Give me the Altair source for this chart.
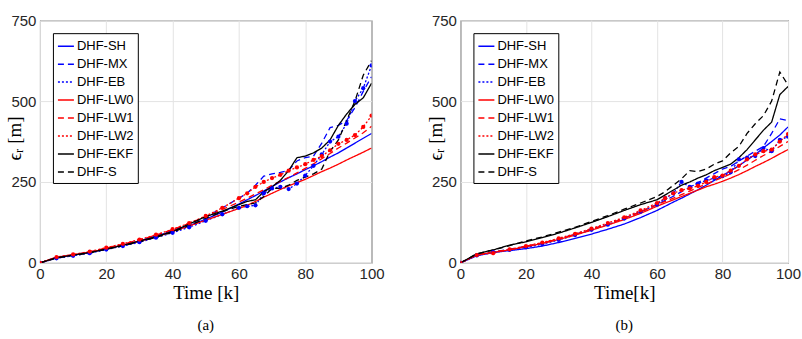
import altair as alt
import pandas as pd

NAMES = ["DHF-SH", "DHF-MX", "DHF-EB", "DHF-LW0", "DHF-LW1", "DHF-LW2", "DHF-EKF", "DHF-S"]
K = [0, 5, 10, 15, 20, 25, 30, 35, 40, 45, 50, 55, 60, 62.5, 65, 67.5, 70, 72.5, 75, 77.5,
     80, 82.5, 85, 87.5, 90, 92.5, 95, 97.5, 100]

# panel (a)
A_SH = [0, 16, 24, 32, 43, 55, 68, 83, 98, 115, 135, 157, 182, 195, 208, 222, 236, 250, 263, 275, 288, 300, 313, 327, 340, 355, 370, 385, 400]
A_MX = [0, 17, 25, 33, 44, 56, 69, 84, 100, 120, 142, 170, 200, 215, 240, 268, 275, 280, 286, 315, 325, 330, 370, 418, 425, 440, 480, 530, 575]
A_EB = [0, 14, 22, 30, 41, 52, 64, 78, 93, 110, 130, 150, 170, 175, 178, 215, 230, 235, 228, 245, 270, 300, 335, 375, 390, 430, 500, 540, 610]
A_LW0 = [0, 17, 25, 33, 44, 55, 67, 80, 97, 114, 132, 150, 168, 178, 190, 203, 215, 227, 238, 248, 258, 270, 282, 293, 305, 318, 330, 342, 355]
A_LW1 = [0, 17, 25, 34, 46, 58, 71, 86, 103, 122, 143, 165, 188, 200, 213, 226, 240, 252, 264, 278, 292, 306, 322, 338, 355, 370, 386, 402, 422]
A_LW2 = [0, 18, 26, 35, 47, 59, 72, 87, 104, 123, 145, 170, 200, 215, 235, 250, 262, 272, 285, 295, 305, 318, 330, 348, 368, 380, 395, 420, 455]
A_EKF = [0, 16, 24, 32, 43, 54, 67, 81, 97, 120, 143, 160, 180, 190, 195, 220, 235, 255, 285, 325, 330, 340, 355, 380, 425, 460, 490, 510, 555]
A_S = [0, 15, 23, 31, 42, 53, 65, 79, 95, 115, 138, 158, 175, 180, 185, 205, 230, 230, 240, 255, 265, 275, 290, 345, 380, 440, 500, 580, 625]

# panel (b)
B_SH = [0, 22, 32, 38, 44, 52, 63, 76, 89, 104, 120, 140, 162, 175, 188, 200, 213, 226, 240, 255, 270, 285, 300, 318, 335, 355, 375, 395, 420]
B_MX = [0, 24, 34, 42, 51, 61, 74, 88, 104, 120, 138, 158, 180, 193, 206, 220, 234, 248, 262, 276, 290, 298, 315, 330, 345, 360, 400, 445, 440]
B_EB = [0, 23, 33, 40, 48, 58, 71, 86, 102, 118, 137, 158, 180, 200, 215, 250, 235, 245, 255, 262, 268, 280, 320, 325, 330, 355, 345, 380, 390]
B_LW0 = [0, 25, 33, 40, 50, 60, 72, 86, 101, 117, 134, 153, 175, 185, 195, 205, 215, 225, 235, 243, 252, 262, 273, 285, 298, 310, 323, 337, 350]
B_LW1 = [0, 25, 34, 41, 51, 62, 74, 88, 104, 120, 138, 158, 180, 190, 200, 211, 222, 233, 244, 254, 264, 275, 288, 302, 317, 332, 345, 360, 375]
B_LW2 = [0, 24, 30, 42, 52, 63, 76, 90, 106, 123, 141, 162, 185, 200, 215, 225, 230, 238, 250, 265, 270, 285, 300, 320, 335, 345, 350, 375, 398]
B_EKF = [0, 28, 40, 55, 65, 78, 92, 108, 125, 143, 162, 180, 195, 210, 225, 240, 250, 262, 272, 285, 295, 305, 325, 350, 380, 410, 435, 520, 545]
B_S = [0, 28, 40, 53, 68, 80, 95, 110, 128, 146, 166, 185, 205, 220, 240, 260, 285, 282, 290, 305, 315, 340, 360, 400, 430, 455, 500, 590, 550]

COLORS = ["#0000ff", "#0000ff", "#0000ff", "#ff0000", "#ff0000", "#ff0000", "#000000", "#000000"]
DASHES = [[1, 0], [6, 4], [2, 2], [1, 0], [6, 4], [2, 2], [1, 0], [6, 4]]
MARKED = ["DHF-EB", "DHF-LW2"]

SERIF = "Liberation Serif"
SANS = "Liberation Sans"


def long_df(series_list):
    rows = []
    for name, vals in zip(NAMES, series_list):
        for k, v in zip(K, vals):
            rows.append({"k": k, "err": v, "method": name})
    return pd.DataFrame(rows)


def panel(df, w, h, xtitle, ytitle, caption):
    legend = alt.Legend(
        title=None, orient="top-left", offset=13, padding=4,
        strokeColor="black", fillColor="white", cornerRadius=0,
        labelFont=SANS, labelFontSize=13, labelColor="black",
        labelOffset=2, symbolType="stroke", symbolSize=256,
        symbolStrokeWidth=1.5, rowPadding=2,
    )
    common_axis = dict(
        grid=True, gridColor="#e3e3e3", gridWidth=1, domain=False, ticks=False,
        labelFont=SANS, labelFontSize=15, labelColor="#262626",
        labelPadding=4, labelFlush=False, labelOverlap=False,
        titleFont=SERIF, titleFontSize=19, titleFontWeight="normal",
        titleColor="black", titleBaseline="middle",
    )
    xenc = alt.X("k:Q", scale=alt.Scale(domain=[0, 100], nice=False),
                 axis=alt.Axis(values=[0, 20, 40, 60, 80, 100], title=xtitle,
                               titleY=30, **common_axis))
    yenc = alt.Y("err:Q", scale=alt.Scale(domain=[0, 750], nice=False),
                 axis=alt.Axis(values=[0, 250, 500, 750], title=ytitle,
                               titleX=-25, titleY=118, **common_axis))
    color_scale = alt.Scale(domain=NAMES, range=COLORS)
    lines = alt.Chart(df).mark_line(strokeWidth=1.3, clip=True).encode(
        x=xenc, y=yenc,
        color=alt.Color("method:N", scale=color_scale, sort=NAMES, legend=legend),
        strokeDash=alt.StrokeDash("method:N", scale=alt.Scale(domain=NAMES, range=DASHES),
                                  sort=NAMES, legend=legend),
    )
    pts = alt.Chart(df).transform_filter(
        alt.FieldOneOfPredicate(field="method", oneOf=MARKED)
    ).mark_point(filled=True, size=18, opacity=1, clip=True).encode(
        x="k:Q", y="err:Q",
        color=alt.Color("method:N", scale=color_scale, legend=None),
    )
    return alt.layer(lines, pts).properties(
        width=w, height=h,
        title=alt.TitleParams(caption, orient="bottom", font=SERIF,
                              fontSize=15, fontWeight="normal", color="black", offset=15),
    )


pa = panel(long_df([A_SH, A_MX, A_EB, A_LW0, A_LW1, A_LW2, A_EKF, A_S]), 332, 243,
           "Time [k]", "ϵᵣ [m]", "(a)")
pb = panel(long_df([B_SH, B_MX, B_EB, B_LW0, B_LW1, B_LW2, B_EKF, B_S]), 328, 243,
           "Time[k]", "ϵᵣ [m]", "(b)")

chart = alt.hconcat(pa, pb, spacing=40).resolve_legend(
    color="independent", strokeDash="independent"
).resolve_scale(
    color="independent", strokeDash="independent"
).properties(
    padding={"left": 5, "top": 12, "right": 0, "bottom": 0}
).configure_view(
    stroke="#262626", strokeWidth=1
)

chart.save("out.html", embed_options={"renderer": "svg", "actions": False})
